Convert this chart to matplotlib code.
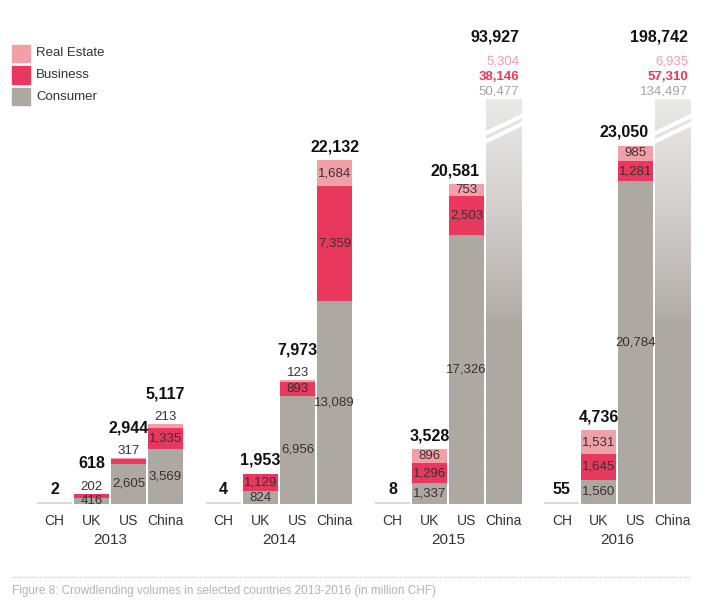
import numpy as np
import matplotlib
matplotlib.use("Agg")
import matplotlib.pyplot as plt
from matplotlib import font_manager
from matplotlib.patches import Rectangle
from matplotlib.colors import to_rgb

# data (million CHF)
years = ["2013", "2014", "2015", "2016"]
countries = ["CH", "UK", "US", "China"]
consumer = [
    [0, 416, 2605, 3569],
    [0, 824, 6956, 13089],
    [0, 1337, 17326, 50477],
    [0, 1560, 20784, 134497],
]
business = [
    [0, 202, 317, 1335],
    [0, 1129, 893, 7359],
    [0, 1296, 2503, 38146],
    [0, 1645, 1281, 57310],
]
real_estate = [
    [0, 0, 22, 213],
    [0, 0, 123, 1684],
    [0, 896, 753, 5304],
    [0, 1531, 985, 6935],
]
totals = [
    [2, 618, 2944, 5117],
    [4, 1953, 7973, 22132],
    [8, 3528, 20581, 93927],
    [55, 4736, 23050, 198742],
]
CAP = 26000  # bars above this are drawn broken

# font
names = {f.name for f in font_manager.fontManager.ttflist}
FONT = "Liberation Sans Narrow" if "Liberation Sans Narrow" in names else "Liberation Sans"
plt.rcParams["font.family"] = [FONT, "DejaVu Sans"]

c_re = "#f2a0a8"
c_bu = "#e8385d"
c_co = "#aea8a3"
c_ch = "#dcd9d6"
txt = "#3a3033"

W, H = 701, 608
fig = plt.figure(figsize=(W / 100, H / 100), dpi=100)
base_px = 104
scale = 0.01554  # px per unit
ax = fig.add_axes([0, base_px / H, 1, 1 - base_px / H])
ax.set_ylim(0, (H - base_px) / scale)
step_px = 37.0
x0_px = 54.5
ax.set_xlim(-x0_px / step_px, (W - x0_px) / step_px)
for s in ax.spines.values():
    s.set_visible(False)
ax.set_yticks([])

group_step = 4.57
bw = 0.95
xs = []
for g in range(len(years)):
    for i in range(len(countries)):
        xs.append(g * group_step + i)

ax.set_xticks(xs)
ax.set_xticklabels(countries * len(years), fontsize=10, color="#333333")
ax.tick_params(axis="x", length=0, pad=7)
for g, yr in enumerate(years):
    ax.text(g * group_step + 1.5, -0.072, yr, transform=ax.get_xaxis_transform(),
            ha="center", va="center", fontsize=11, color="#333333")

def lbl(x, y, s, **kw):
    kw.setdefault("fontsize", 9.5)
    kw.setdefault("color", txt)
    ax.text(x, y, s, ha=kw.pop("ha", "center"), va=kw.pop("va", "center"), **kw)

for g in range(len(years)):
    for i in range(len(countries)):
        x = g * group_step + i
        tot = totals[g][i]
        if i == 0:
            # CH: tiny volumes, shown as thin base strip
            ax.bar(x, max(tot, 2.2 / scale), bw, color=c_ch, linewidth=0)
            ax.annotate(f"{tot:,}", (x, 0), xytext=(0, 10), textcoords="offset pixels",
                        ha="center", va="baseline", fontsize=11.5, fontweight="bold", color="#111111")
            continue
        segs = [(consumer[g][i], c_co), (business[g][i], c_bu), (real_estate[g][i], c_re)]
        if tot > CAP:
            # broken bar with fading top
            x_l = x - bw / 2
            n = 300
            t = np.linspace(0, 1, n)[:, None]
            f = np.clip((t - 0.45) / 0.55, 0, 1) ** 0.8 * 0.75
            rgb = np.array(to_rgb(c_co))[None, :] * (1 - f) + f
            img = np.repeat(rgb[:, None, :], 2, axis=1)
            ax.imshow(img, origin="lower", extent=[x_l, x_l + bw, 0, CAP],
                      aspect="auto", interpolation="bilinear", zorder=2)
            y_br = CAP - 42 / scale
            dy = 17 / scale
            for off in (0, 8 / scale):
                ax.plot([x_l - 0.04, x_l + bw + 0.1], [y_br + off, y_br + off + dy * 1.14],
                        color="white", lw=3.0, zorder=3, solid_capstyle="butt")
            xr = x + bw / 2 - 0.06
            y = CAP + 8 / scale
            for v, c in [(consumer[g][i], "#a8a29d"), (business[g][i], c_bu), (real_estate[g][i], c_re)]:
                lbl(xr, y, f"{v:,}", ha="right", color=c, fontweight="bold" if c == c_bu else "normal")
                y += 15 / scale
            lbl(xr, y + 10 / scale, f"{tot:,}", ha="right", fontsize=11.5,
                fontweight="bold", color="#111111")
            continue
        bottom = 0
        top = sum(v for v, _ in segs)
        visible = [k for k, (v, _) in enumerate(segs) if v >= 50]
        n_above = 0
        for k, (v, c) in enumerate(segs):
            if v <= 0:
                continue
            ax.bar(x, v, bw, bottom=bottom, color=c, linewidth=0, zorder=2)
            if v >= 50:
                if v * scale >= 10 or k != visible[-1]:
                    lbl(x, bottom + v / 2, f"{v:,}", zorder=4)
                else:
                    lbl(x, top + 7 / scale, f"{v:,}", zorder=4)
                    n_above += 1
            bottom += v
        # keep the total clear of a broken neighbour's labels
        nxt_broken = i < len(countries) - 1 and totals[g][i + 1] > CAP
        if nxt_broken:
            ax.annotate(f"{tot:,}", (x + bw / 2, top), xytext=(-5, 9 + 17 * n_above),
                        textcoords="offset pixels", ha="right", va="baseline",
                        fontsize=11.5, fontweight="bold", color="#111111")
        else:
            ax.annotate(f"{tot:,}", (x, top), xytext=(0, 9 + 17 * n_above), textcoords="offset pixels",
                        ha="center", va="baseline", fontsize=11.5, fontweight="bold", color="#111111")

# legend
for k, (name, c) in enumerate([("Real Estate", c_re), ("Business", c_bu), ("Consumer", c_co)]):
    y = H - 45 - k * 21.5
    fig.patches.append(Rectangle((12 / W, (y - 17) / H), 18 / W, 17 / H, color=c,
                                 transform=fig.transFigure, figure=fig))
    fig.text(36 / W, (y - 8.5) / H, name, ha="left", va="center", fontsize=9.5, color="#333333")

# caption
fig.add_artist(plt.Line2D([12 / W, 690 / W], [1 - 577 / H, 1 - 577 / H], color="#c8c8c8",
                          lw=0.9, ls=(0, (1, 1)), transform=fig.transFigure))
fig.text(12 / W, 1 - 591 / H, "Figure 8: Crowdlending volumes in selected countries 2013-2016 (in million CHF)",
         ha="left", va="center", fontsize=8.5, color="#b3b3b3")

fig.savefig("out.png", dpi=100)
